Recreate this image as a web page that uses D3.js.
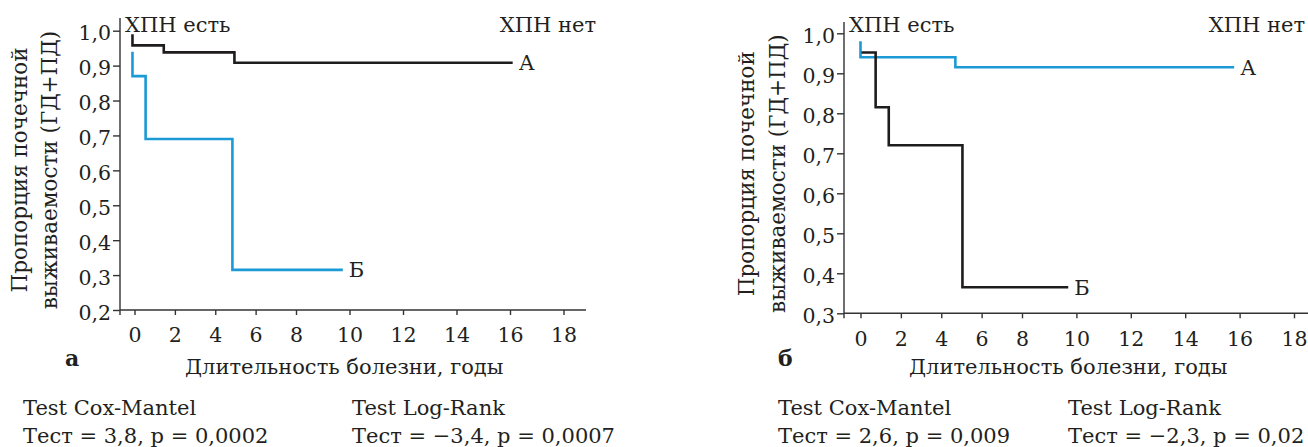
<!DOCTYPE html>
<html>
<head>
<meta charset="utf-8">
<script src="https://cdn.jsdelivr.net/npm/d3@7"></script>
<style>
	body { margin: 0; background: #fff; }
	svg text { font-family: "DejaVu Serif", serif; fill: #231f20; }
	.tick text { font-size: 20.5px; }
	.lbl { font-size: 21px; }
	.ytitle { font-size: 21.5px; }
	.panel { font-size: 22px; font-weight: bold; }
	.axis line, .axis path { stroke: #333; stroke-width: 1.4; }
</style>
</head>
<body>
<svg id="chart" width="1308" height="447"></svg>
<script>
// ось X общая для обеих панелей
var xTicks = [0, 2, 4, 6, 8, 10, 12, 14, 16, 18]
var yTicksA = [0.2, 0.3, 0.4, 0.5, 0.6, 0.7, 0.8, 0.9, 1.0]
var yTicksB = [0.3, 0.4, 0.5, 0.6, 0.7, 0.8, 0.9, 1.0]

// панель а: время (годы) и доля выживших
var aTimeA = [-0.1, -0.1, 1.45, 4.95, 16.1]
var aSurvA = [0.99, 0.958, 0.938, 0.908, 0.908]
var aTimeB = [-0.1, -0.1, 0.55, 4.85, 9.75]
var aSurvB = [0.94, 0.87, 0.69, 0.315, 0.315]

// панель б
var bTimeA = [0, 0, 4.7, 15.8]
var bSurvA = [0.98, 0.94, 0.915, 0.915]
var bTimeB = [0.05, 0.75, 1.4, 5.05, 9.7]
var bSurvB = [0.952, 0.815, 0.72, 0.365, 0.365]

var groupLabels = ["ХПН есть", "ХПН нет"]
var curveLabels = ["А", "Б"]
var yTitle = ["Пропорция почечной", "выживаемости (ГД+ПД)"]
var xTitle = "Длительность болезни, годы"
var testNames = ["Test Cox-Mantel", "Test Log-Rank"]
var testA = ["Тест = 3,8, р = 0,0002", "Тест = −3,4, р = 0,0007"]
var testB = ["Тест = 2,6, р = 0,009", "Тест = −2,3, р = 0,02"]

var BLACK = "#1f1c1d"
var BLUE = "#1b9ad6"

var svg = d3.select("#chart")

function zipCurve(t, s) {
	return t.map((d, i) => [d, s[i]])
}

function drawPanel(p) {
	// шкала по X в оригинале неравномерная: 0..8 уже, 8..18 шире
	let x = d3.scaleLinear()
	.domain([0, 8, 18])
	.range(p.xRange)
	let y = d3.scaleLinear()
	.domain(p.yDomain)
	.range(p.yRange)

	let g = svg.append("g")
	let y0 = y(p.yDomain[0])

	let ya = g.append("g")
	.attr("class", "axis")
	.attr("transform", "translate(" + p.axisX + ",0)")
	.call(d3.axisLeft(y)
		.tickValues(p.yTicks)
		.tickSize(7)
		.tickPadding(2)
		.tickFormat(d => d3.format(".1f")(d).replace(".", ",")))
	ya.select(".domain").remove()
	ya.selectAll(".tick text").attr("dy", "0.44em")

	let xa = g.append("g")
	.attr("class", "axis")
	.attr("transform", "translate(0," + y0 + ")")
	.call(d3.axisBottom(x)
		.tickValues(xTicks)
		.tickSize(5)
		.tickPadding(p.xPad))
	xa.select(".domain").remove()

	g.append("line")
	.attr("x1", p.axisX).attr("x2", p.axisX)
	.attr("y1", p.axisTop).attr("y2", y0 + 5)
	.attr("stroke", "#333").attr("stroke-width", 1.4)

	g.append("line")
	.attr("x1", p.axisX).attr("x2", p.axisRight)
	.attr("y1", y0).attr("y2", y0)
	.attr("stroke", "#333").attr("stroke-width", 1.4)

	let line = d3.line()
	.x(d => x(d[0]))
	.y(d => y(d[1]))
	.curve(d3.curveStepAfter)

	g.selectAll(".km")
	.data(p.curves)
	.join("path")
	.classed("km", true)
	.attr("d", d => line(zipCurve(d.t, d.s)))
	.attr("fill", "none")
	.attr("stroke", d => d.color)
	.attr("stroke-width", 2.6)

	// буквы А / Б на концах кривых
	g.selectAll(".end")
	.data(p.curves)
	.join("text")
	.attr("class", "lbl end")
	.attr("x", d => x(d.t[d.t.length - 1]) + 6)
	.attr("y", d => y(d.s[d.s.length - 1]))
	.attr("dy", "0.36em")
	.text((d, i) => curveLabels[i])

	g.append("text").attr("class", "lbl")
	.attr("x", p.axisX + 5).attr("y", 32)
	.text(groupLabels[0])
	g.append("text").attr("class", "lbl")
	.attr("x", p.noRight).attr("y", 32)
	.attr("text-anchor", "end")
	.text(groupLabels[1])

	let cy = (p.axisTop + y0) / 2 + 6
	yTitle.forEach((t, i) => {
		g.append("text")
		.attr("class", "ytitle")
		.attr("transform", "translate(" + p.titleX[i] + "," + cy + ") rotate(-90)")
		.attr("text-anchor", "middle")
		.text(t)
	})

	g.append("text").attr("class", "panel")
	.attr("x", p.letterX).attr("y", 366)
	.text(p.letter)

	g.append("text").attr("class", "lbl")
	.attr("x", p.xTitleX).attr("y", 374)
	.text(xTitle)

	p.tests.forEach((t, i) => {
		g.append("text").attr("class", "lbl")
		.attr("x", p.testX[i]).attr("y", 415)
		.text(testNames[i])
		g.append("text").attr("class", "lbl")
		.attr("x", p.testX[i]).attr("y", 443)
		.text(t)
	})
}

drawPanel({
	xRange: [134.5, 296, 563.5],
	yDomain: [0.2, 1.0],
	yRange: [310, 30.7],
	yTicks: yTicksA,
	axisX: 120,
	axisTop: 18,
	axisRight: 586,
	xPad: 12,
	noRight: 596,
	titleX: [27, 57],
	letter: "а",
	letterX: 65,
	xTitleX: 185,
	testX: [23, 352],
	tests: testA,
	curves: [
		{t: aTimeA, s: aSurvA, color: BLACK},
		{t: aTimeB, s: aSurvB, color: BLUE}
	]
})

drawPanel({
	xRange: [860.5, 1022, 1294],
	yDomain: [0.3, 1.0],
	yRange: [313.3, 33.3],
	yTicks: yTicksB,
	axisX: 844,
	axisTop: 22,
	axisRight: 1308,
	xPad: 13,
	noRight: 1305,
	titleX: [754, 785],
	letter: "б",
	letterX: 778,
	xTitleX: 909,
	testX: [778, 1068],
	tests: testB,
	curves: [
		{t: bTimeA, s: bSurvA, color: BLUE},
		{t: bTimeB, s: bSurvB, color: BLACK}
	]
})
</script>
</body>
</html>
